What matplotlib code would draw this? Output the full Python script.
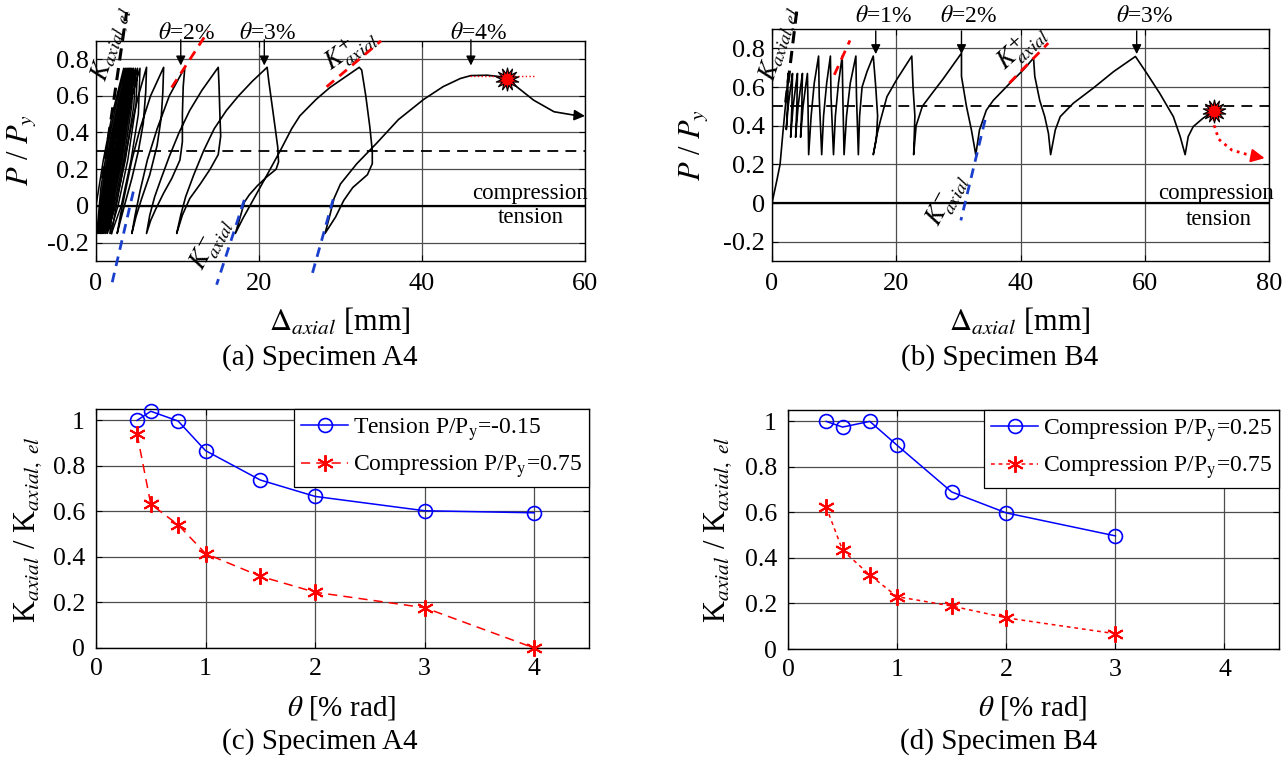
import matplotlib
matplotlib.use("Agg")
import matplotlib.pyplot as plt

plt.rcParams["font.family"] = ["Liberation Serif", "DejaVu Serif"]
plt.rcParams["mathtext.fontset"] = "stix"

# ---------------- (a) Specimen A4 : axial displacement vs P/Py ----------------
A4_dense_disp = [
    0.0, 0.9, 2.0, 3.4, 3.2, 2.2, 1.0, 0.1,
    0.6, 1.5, 2.6, 3.6, 3.4, 2.4, 1.2, 0.25,
    0.8, 1.7, 2.8, 3.8, 3.6, 2.6, 1.4, 0.4,
    0.95, 1.85, 2.95, 3.95, 3.75, 2.75, 1.55, 0.55,
    1.1, 2.0, 3.1, 4.1, 3.9, 2.9, 1.7, 0.7,
    1.25, 2.15, 3.25, 4.25, 4.05, 3.05, 1.85, 0.85,
    1.4, 2.3, 3.4, 4.4, 4.2, 3.2, 2.0, 1.0,
    1.55, 2.5, 3.6, 4.6, 4.4, 3.4, 2.2, 1.2,
    1.75, 2.7, 3.8, 4.85, 4.65, 3.6, 2.4, 1.4,
    2.0, 2.95, 4.05, 5.1, 4.9, 3.9, 2.7, 1.7,
    2.3, 3.3, 4.3, 5.4, 5.2, 4.3, 3.1, 1.9,
]
A4_dense_load = [
    0.0, 0.25, 0.5, 0.75, 0.55, 0.25, 0.0, -0.15,
    0.1, 0.35, 0.58, 0.75, 0.55, 0.25, 0.0, -0.15,
    0.1, 0.35, 0.58, 0.75, 0.55, 0.25, 0.0, -0.15,
    0.1, 0.35, 0.58, 0.75, 0.55, 0.25, 0.0, -0.15,
    0.1, 0.35, 0.58, 0.75, 0.55, 0.25, 0.0, -0.15,
    0.1, 0.35, 0.58, 0.75, 0.55, 0.25, 0.0, -0.15,
    0.1, 0.35, 0.58, 0.75, 0.55, 0.25, 0.0, -0.15,
    0.1, 0.35, 0.58, 0.75, 0.55, 0.25, 0.0, -0.15,
    0.1, 0.35, 0.58, 0.75, 0.55, 0.25, 0.0, -0.15,
    0.1, 0.35, 0.58, 0.75, 0.55, 0.25, 0.0, -0.15,
    0.1, 0.35, 0.58, 0.75, 0.5, 0.25, 0.0, -0.15,
]
A4_large_disp = [
    2.3, 2.8, 3.5, 4.3, 5.2, 6.2,
    6.1, 5.8, 5.2, 4.4, 3.6, 3.0, 2.6,
    3.0, 3.6, 4.4, 5.4, 6.7, 8.3,
    8.2, 8.0, 7.5, 6.6, 5.6, 4.9, 4.4,
    4.8, 5.4, 6.3, 7.5, 9.0, 10.9,
    10.7, 10.6, 10.6, 10.3, 9.3, 8.3, 7.3, 6.7, 6.2,
    6.6, 7.2, 8.0, 9.0, 10.2, 11.5, 13.0, 15.0,
    15.1, 15.2, 15.3, 15.0, 14.0, 12.8, 11.5, 10.6, 9.9,
    10.4, 11.0, 12.0, 13.2, 14.5, 16.0, 17.5, 19.2, 21.0,
    21.2, 21.6, 22.0, 22.3, 22.4, 22.1, 21.0, 19.8, 18.8, 18.2, 17.7, 17.1,
    18.0, 19.5, 21.0, 22.6, 24.0, 25.0, 27.0, 28.7, 30.5, 32.3,
    32.6, 33.1, 33.6, 33.9, 33.9, 33.3, 31.5, 30.4, 29.4, 28.1,
    28.7, 29.2, 30.0, 32.0, 34.4, 37.1, 40.2, 42.6, 44.7, 46.0, 48.0, 50.4,
    51.6, 53.7, 56.2, 58.6,
]
A4_large_load = [
    -0.05, 0.08, 0.25, 0.43, 0.6, 0.755,
    0.62, 0.45, 0.3, 0.15, 0.02, -0.08, -0.15,
    -0.05, 0.08, 0.25, 0.42, 0.6, 0.755,
    0.62, 0.48, 0.33, 0.17, 0.04, -0.06, -0.15,
    -0.05, 0.08, 0.25, 0.42, 0.6, 0.755,
    0.65, 0.5, 0.35, 0.25, 0.15, 0.07, -0.02, -0.08, -0.15,
    -0.05, 0.05, 0.15, 0.27, 0.4, 0.52, 0.63, 0.755,
    0.65, 0.5, 0.38, 0.28, 0.2, 0.12, 0.04, -0.05, -0.15,
    -0.05, 0.05, 0.17, 0.3, 0.42, 0.52, 0.6, 0.68, 0.755,
    0.68, 0.55, 0.42, 0.32, 0.24, 0.2, 0.16, 0.11, 0.06, 0.02, -0.06, -0.15,
    -0.07, 0.05, 0.17, 0.3, 0.42, 0.49, 0.58, 0.645, 0.7, 0.755,
    0.74, 0.6, 0.43, 0.3, 0.23, 0.17, 0.1, 0.03, -0.06, -0.15,
    -0.05, 0.04, 0.12, 0.23, 0.34, 0.47, 0.58, 0.65, 0.694, 0.71, 0.712, 0.70,
    0.65, 0.576, 0.513, 0.495,
]
A4_end_disp = [58.6, 60.0]
A4_end_load = [0.495, 0.49]
A4_fail = (50.4, 0.69)
A4_fail_line_disp = [45.9, 53.9]
A4_fail_line_load = [0.708, 0.708]
A4_Kel = ([0.79, 3.76], [0.15, 1.056])
A4_Kpos = [([9.28, 13.78], [0.645, 0.953]), ([28.3, 34.97], [0.649, 0.899])]
A4_Kneg = [([4.58, 1.92], [0.078, -0.429]), ([18.2, 14.8], [0.033, -0.429]),
           ([29.1, 26.5], [0.036, -0.375])]
A4_drift_text = ["$\\theta$=2%", "$\\theta$=3%", "$\\theta$=4%"]
A4_drift_x = [10.4, 20.65, 46.0]
A4_drift_text_x = [11.1, 21.1, 46.9]
A4_load_ratio_line = 0.3

# ---------------- (b) Specimen B4 ----------------
B4_disp = [
    0.0, 0.8, 1.3, 1.8, 2.3, 2.6,
    2.5, 2.3, 2.6, 3.0, 3.3,
    3.2, 3.0, 3.4, 3.8, 4.1,
    4.0, 3.8, 4.2, 4.6, 4.9,
    4.8, 4.6, 5.0, 5.4, 5.7,
    5.8, 5.9, 6.3, 6.8, 7.5,
    7.6, 7.8, 8.0, 8.3, 8.8, 9.4,
    9.5, 9.7, 9.9, 10.2, 10.7, 11.3,
    11.4, 11.5, 11.6, 12.0, 12.6, 13.5,
    13.6, 13.75, 13.9, 14.1, 14.5, 15.3, 16.3,
    16.7, 17.0, 16.8, 16.3, 16.8, 17.4, 18.5, 20.1, 22.5,
    22.7, 23.0, 22.8, 23.2, 24.2, 25.6, 27.5, 30.5,
    30.5, 31.3, 32.1, 32.8, 33.4, 34.5, 35.6, 38.0, 40.5, 42.1,
    42.3, 43.1, 43.9, 44.5, 44.85, 45.6, 46.4, 48.5, 51.7, 55.0, 58.5,
    60.3, 62.4, 64.6, 65.7, 66.5, 67.0, 67.8, 69.4, 71.0,
]
B4_load = [
    0.0, 0.12, 0.2, 0.38, 0.55, 0.67,
    0.5, 0.38, 0.5, 0.6, 0.67,
    0.5, 0.34, 0.5, 0.6, 0.67,
    0.5, 0.34, 0.5, 0.6, 0.67,
    0.5, 0.34, 0.5, 0.6, 0.67,
    0.5, 0.25, 0.45, 0.62, 0.76,
    0.55, 0.4, 0.25, 0.45, 0.62, 0.76,
    0.55, 0.4, 0.25, 0.45, 0.62, 0.76,
    0.55, 0.4, 0.25, 0.45, 0.62, 0.76,
    0.55, 0.4, 0.25, 0.45, 0.6, 0.68, 0.76,
    0.6, 0.45, 0.33, 0.25, 0.34, 0.42, 0.55, 0.64, 0.76,
    0.6, 0.45, 0.25, 0.4, 0.5, 0.56, 0.64, 0.775,
    0.655, 0.5, 0.378, 0.25, 0.378, 0.48, 0.53, 0.61, 0.69, 0.75,
    0.655, 0.53, 0.447, 0.36, 0.25, 0.378, 0.447, 0.516, 0.594, 0.68, 0.758,
    0.672, 0.568, 0.447, 0.344, 0.25, 0.344, 0.395, 0.439, 0.473,
]
B4_fail = (71.1, 0.478)
B4_post_disp = [71.1, 71.2, 71.9, 74.0, 76.7, 78.0]
B4_post_load = [0.478, 0.40, 0.33, 0.274, 0.249, 0.240]
B4_post_end = (79.3, 0.232)
B4_Kel = ([2.2, 3.97], [0.52, 0.99])
B4_Kpos = [([10.03, 12.55], [0.663, 0.841]), ([38.2, 44.47], [0.62, 0.827])]
B4_Kneg = [([34.3, 30.4], [0.43, -0.09])]
B4_drift_text = ["$\\theta$=1%", "$\\theta$=2%", "$\\theta$=3%"]
B4_drift_x = [16.7, 30.5, 58.7]
B4_drift_text_x = [17.9, 31.6, 60.0]
B4_load_ratio_line = 0.5

# ---------------- (c), (d) stiffness ratios ----------------
theta_A4 = [0.375, 0.5, 0.75, 1, 1.5, 2, 3, 4]
K_A4_tension = [1.0, 1.04, 0.997, 0.867, 0.738, 0.666, 0.603, 0.594]
K_A4_comp75 = [0.94, 0.632, 0.541, 0.415, 0.315, 0.245, 0.177, 0.0]
theta_B4 = [0.35, 0.5, 0.75, 1, 1.5, 2, 3]
K_B4_comp25 = [1.0, 0.975, 1.0, 0.895, 0.69, 0.598, 0.497]
K_B4_comp75 = [0.624, 0.434, 0.325, 0.23, 0.189, 0.137, 0.067]

P_ticks = [-0.2, 0, 0.2, 0.4, 0.6, 0.8]
P_ticklabels = ["-0.2", "0", "0.2", "0.4", "0.6", "0.8"]
A4_xticks = [0, 20, 40, 60]
B4_xticks = [0, 20, 40, 60, 80]
theta_ticks = [0, 1, 2, 3, 4]
K_ticks = [0, 0.2, 0.4, 0.6, 0.8, 1]
K_ticklabels = ["0", "0.2", "0.4", "0.6", "0.8", "1"]

# ---------------- figure ----------------
W, H = 1287, 760
fig = plt.figure(figsize=(W / 100, H / 100), dpi=100)


def rect(l, r, t, b):
    return [l / W, 1 - b / H, (r - l) / W, (b - t) / H]


axA = fig.add_axes(rect(96, 585, 40.7, 261))
axB = fig.add_axes(rect(772, 1269, 29, 261))
axC = fig.add_axes(rect(96, 589, 409, 648))
axD = fig.add_axes(rect(788, 1279, 410, 649))

GRID = "0.3"


def style(ax, xlim, ylim, xt, yt, ytl, fs, xpad, ypad):
    ax.set_xlim(*xlim)
    ax.set_ylim(*ylim)
    ax.set_xticks(xt)
    ax.set_xticklabels([str(v) for v in xt])
    ax.set_yticks(yt)
    ax.set_yticklabels(ytl)
    ax.grid(True, color=GRID, lw=0.9)
    ax.set_axisbelow(True)
    ax.tick_params(direction="in", length=4, width=0.8, top=True, right=True,
                   labelsize=fs, colors="k")
    ax.tick_params(axis="x", pad=xpad)
    ax.tick_params(axis="y", pad=ypad)
    for s in ax.spines.values():
        s.set_linewidth(1.0)
        s.set_color("k")


style(axA, (0, 60), (-0.3, 0.9), A4_xticks, P_ticks, P_ticklabels, 19, 9, 5)
style(axB, (0, 80), (-0.3, 0.9), B4_xticks, P_ticks, P_ticklabels, 19, 9, 5)
style(axC, (0, 4.5), (0, 1.05), theta_ticks, K_ticks, K_ticklabels, 18.5, 7, 8)
style(axD, (0, 4.5), (0, 1.05), theta_ticks, K_ticks, K_ticklabels, 18.5, 7, 8)


def drift_arrows(ax, xs, txs, labels, y0, y1, ty):
    for x, tx, lab in zip(xs, txs, labels):
        ax.annotate("", xy=(x, y1), xytext=(x, y0), annotation_clip=False,
                    arrowprops=dict(arrowstyle="-|>", color="k", lw=1.0,
                                    mutation_scale=14, shrinkA=0, shrinkB=0))
        ax.text(tx, ty, lab, ha="center", va="center", fontsize=17, clip_on=False)


# ---- panel (a)
ax = axA
ax.axhline(0, color="k", lw=1.6, zorder=1.5)
ax.axhline(A4_load_ratio_line, color="k", lw=1.3, dashes=(6, 4), zorder=1.6)
ax.plot(A4_dense_disp, A4_dense_load, color="k", lw=1.1, zorder=3)
ax.plot([A4_dense_disp[-1]] + A4_large_disp, [A4_dense_load[-1]] + A4_large_load,
        color="k", lw=1.2, zorder=3)
ax.annotate("", xy=(A4_end_disp[1], A4_end_load[1]),
            xytext=(A4_end_disp[0], A4_end_load[0]), annotation_clip=False,
            arrowprops=dict(arrowstyle="-|>", color="k", lw=1.2,
                            mutation_scale=16, shrinkA=0, shrinkB=0))
ax.plot(A4_fail_line_disp, A4_fail_line_load, color="red", lw=1.0, ls=":", zorder=4)
ax.plot(*A4_Kel, color="k", lw=2.2, dashes=(4, 2.5), clip_on=False, zorder=4)
for xs, ys in A4_Kpos:
    ax.plot(xs, ys, color="red", lw=2.0, dashes=(3.5, 2.5), clip_on=False, zorder=4)
for xs, ys in A4_Kneg:
    ax.plot(xs, ys, color="#1a3fcc", lw=2.0, dashes=(3.5, 2.5), clip_on=False, zorder=4)
ax.plot(*A4_fail, marker=(14, 1, 0), ms=17, mfc="red", mec="k", mew=0.8,
        zorder=6, clip_on=False)
drift_arrows(ax, A4_drift_x, A4_drift_text_x, A4_drift_text, 0.905, 0.765, 0.94)
ax.text(1.9, 0.88, r"$K_{axial,el}$", rotation=72, ha="center", va="center",
        fontsize=19, clip_on=False)
ax.text(31.2, 0.85, r"$K^{+}_{axial}$", rotation=35, ha="center", va="center",
        fontsize=19, clip_on=False)
ax.text(14.1, -0.21, r"$K^{-}_{axial}$", rotation=62, ha="center", va="center",
        fontsize=19, clip_on=False)
ax.text(53.3, 0.07, "compression", ha="center", va="center", fontsize=16.5)
ax.text(53.3, -0.065, "tension", ha="center", va="center", fontsize=16.5)

# ---- panel (b)
ax = axB
ax.axhline(0, color="k", lw=1.6, zorder=1.5)
ax.axhline(B4_load_ratio_line, color="k", lw=1.3, dashes=(6, 4), zorder=1.6)
ax.plot(B4_disp, B4_load, color="k", lw=1.2, zorder=3)
ax.plot(B4_post_disp, B4_post_load, color="red", lw=2.0, ls=":", zorder=4)
ax.annotate("", xy=B4_post_end, xytext=(B4_post_disp[-1], B4_post_load[-1]),
            annotation_clip=False,
            arrowprops=dict(arrowstyle="-|>", color="red", lw=1.5,
                            mutation_scale=20, shrinkA=0, shrinkB=0))
ax.plot(*B4_Kel, color="k", lw=2.2, dashes=(4, 2.5), clip_on=False, zorder=4)
for xs, ys in B4_Kpos:
    ax.plot(xs, ys, color="red", lw=2.0, dashes=(3.5, 2.5), clip_on=False, zorder=4)
for xs, ys in B4_Kneg:
    ax.plot(xs, ys, color="#1a3fcc", lw=2.0, dashes=(3.5, 2.5), clip_on=False, zorder=4)
ax.plot(*B4_fail, marker=(14, 1, 0), ms=17, mfc="red", mec="k", mew=0.8,
        zorder=6, clip_on=False)
drift_arrows(ax, B4_drift_x, B4_drift_text_x, B4_drift_text, 0.89, 0.77, 0.965)
ax.text(1.2, 0.824, r"$K_{axial,el}$", rotation=72, ha="center", va="center",
        fontsize=19, clip_on=False)
ax.text(40.2, 0.807, r"$K^{+}_{axial}$", rotation=42, ha="center", va="center",
        fontsize=19, clip_on=False)
ax.text(28.2, 0.016, r"$K^{-}_{axial}$", rotation=62, ha="center", va="center",
        fontsize=19, clip_on=False)
ax.text(71.5, 0.05, "compression", ha="center", va="center", fontsize=16.5)
ax.text(71.9, -0.085, "tension", ha="center", va="center", fontsize=16.5)

# ---- panel (c)
ax = axC
ax.plot(theta_A4, K_A4_tension, color="blue", lw=1.1, marker="o", ms=10,
        mfc="none", mew=1.2, label=r"Tension P/P$_{\mathrm{y}}$=-0.15", clip_on=False, zorder=4)
ax.plot(theta_A4, K_A4_comp75, color="red", lw=1.1, dashes=(6, 4), marker=(6, 2, 0),
        ms=12, mew=1.4, label=r"Compression P/P$_{\mathrm{y}}$=0.75", clip_on=False, zorder=4)

# ---- panel (d)
ax = axD
ax.plot(theta_B4, K_B4_comp25, color="blue", lw=1.1, marker="o", ms=10,
        mfc="none", mew=1.2, label=r"Compression P/P$_{\mathrm{y}}$=0.25", clip_on=False, zorder=4)
ax.plot(theta_B4, K_B4_comp75, color="red", lw=1.1, dashes=(2.5, 2.5), marker=(6, 2, 0),
        ms=12, mew=1.4, label=r"Compression P/P$_{\mathrm{y}}$=0.75", clip_on=False, zorder=4)

for ax in (axC, axD):
    leg = ax.legend(loc="upper right", fontsize=17, frameon=True, fancybox=False,
                    edgecolor="k", framealpha=1, borderaxespad=0, handlelength=2.0,
                    handletextpad=0.2, borderpad=0.3, labelspacing=0.45)
    leg.get_frame().set_linewidth(0.9)
    leg.set_zorder(10)

# ---- axis labels and captions
LFS = 21
fig.text(22 / W, 1 - 150 / H, r"$P$ / $P_y$", rotation=90, ha="center", va="center", fontsize=22)
fig.text(694 / W, 1 - 145 / H, r"$P$ / $P_y$", rotation=90, ha="center", va="center", fontsize=22)
fig.text(28 / W, 1 - 530 / H, r"K$_{axial}$ / K$_{axial,\ el}$", rotation=90,
         ha="center", va="center", fontsize=22)
fig.text(718 / W, 1 - 530 / H, r"K$_{axial}$ / K$_{axial,\ el}$", rotation=90,
         ha="center", va="center", fontsize=22)
fig.text(340 / W, 1 - 322 / H, r"$\Delta_{axial}$ [mm]", ha="center", va="center", fontsize=22)
fig.text(1020 / W, 1 - 322 / H, r"$\Delta_{axial}$ [mm]", ha="center", va="center", fontsize=22)
fig.text(342 / W, 1 - 708 / H, r"$\theta$ [% rad]", ha="center", va="center", fontsize=LFS)
fig.text(1033 / W, 1 - 708 / H, r"$\theta$ [% rad]", ha="center", va="center", fontsize=LFS)
fig.text(320 / W, 1 - 358 / H, "(a) Specimen A4", ha="center", va="center", fontsize=LFS)
fig.text(1000 / W, 1 - 358 / H, "(b) Specimen B4", ha="center", va="center", fontsize=LFS)
fig.text(320 / W, 1 - 742 / H, "(c) Specimen A4", ha="center", va="center", fontsize=LFS)
fig.text(999 / W, 1 - 742 / H, "(d) Specimen B4", ha="center", va="center", fontsize=LFS)

fig.savefig("out.png", dpi=100, facecolor="white")
